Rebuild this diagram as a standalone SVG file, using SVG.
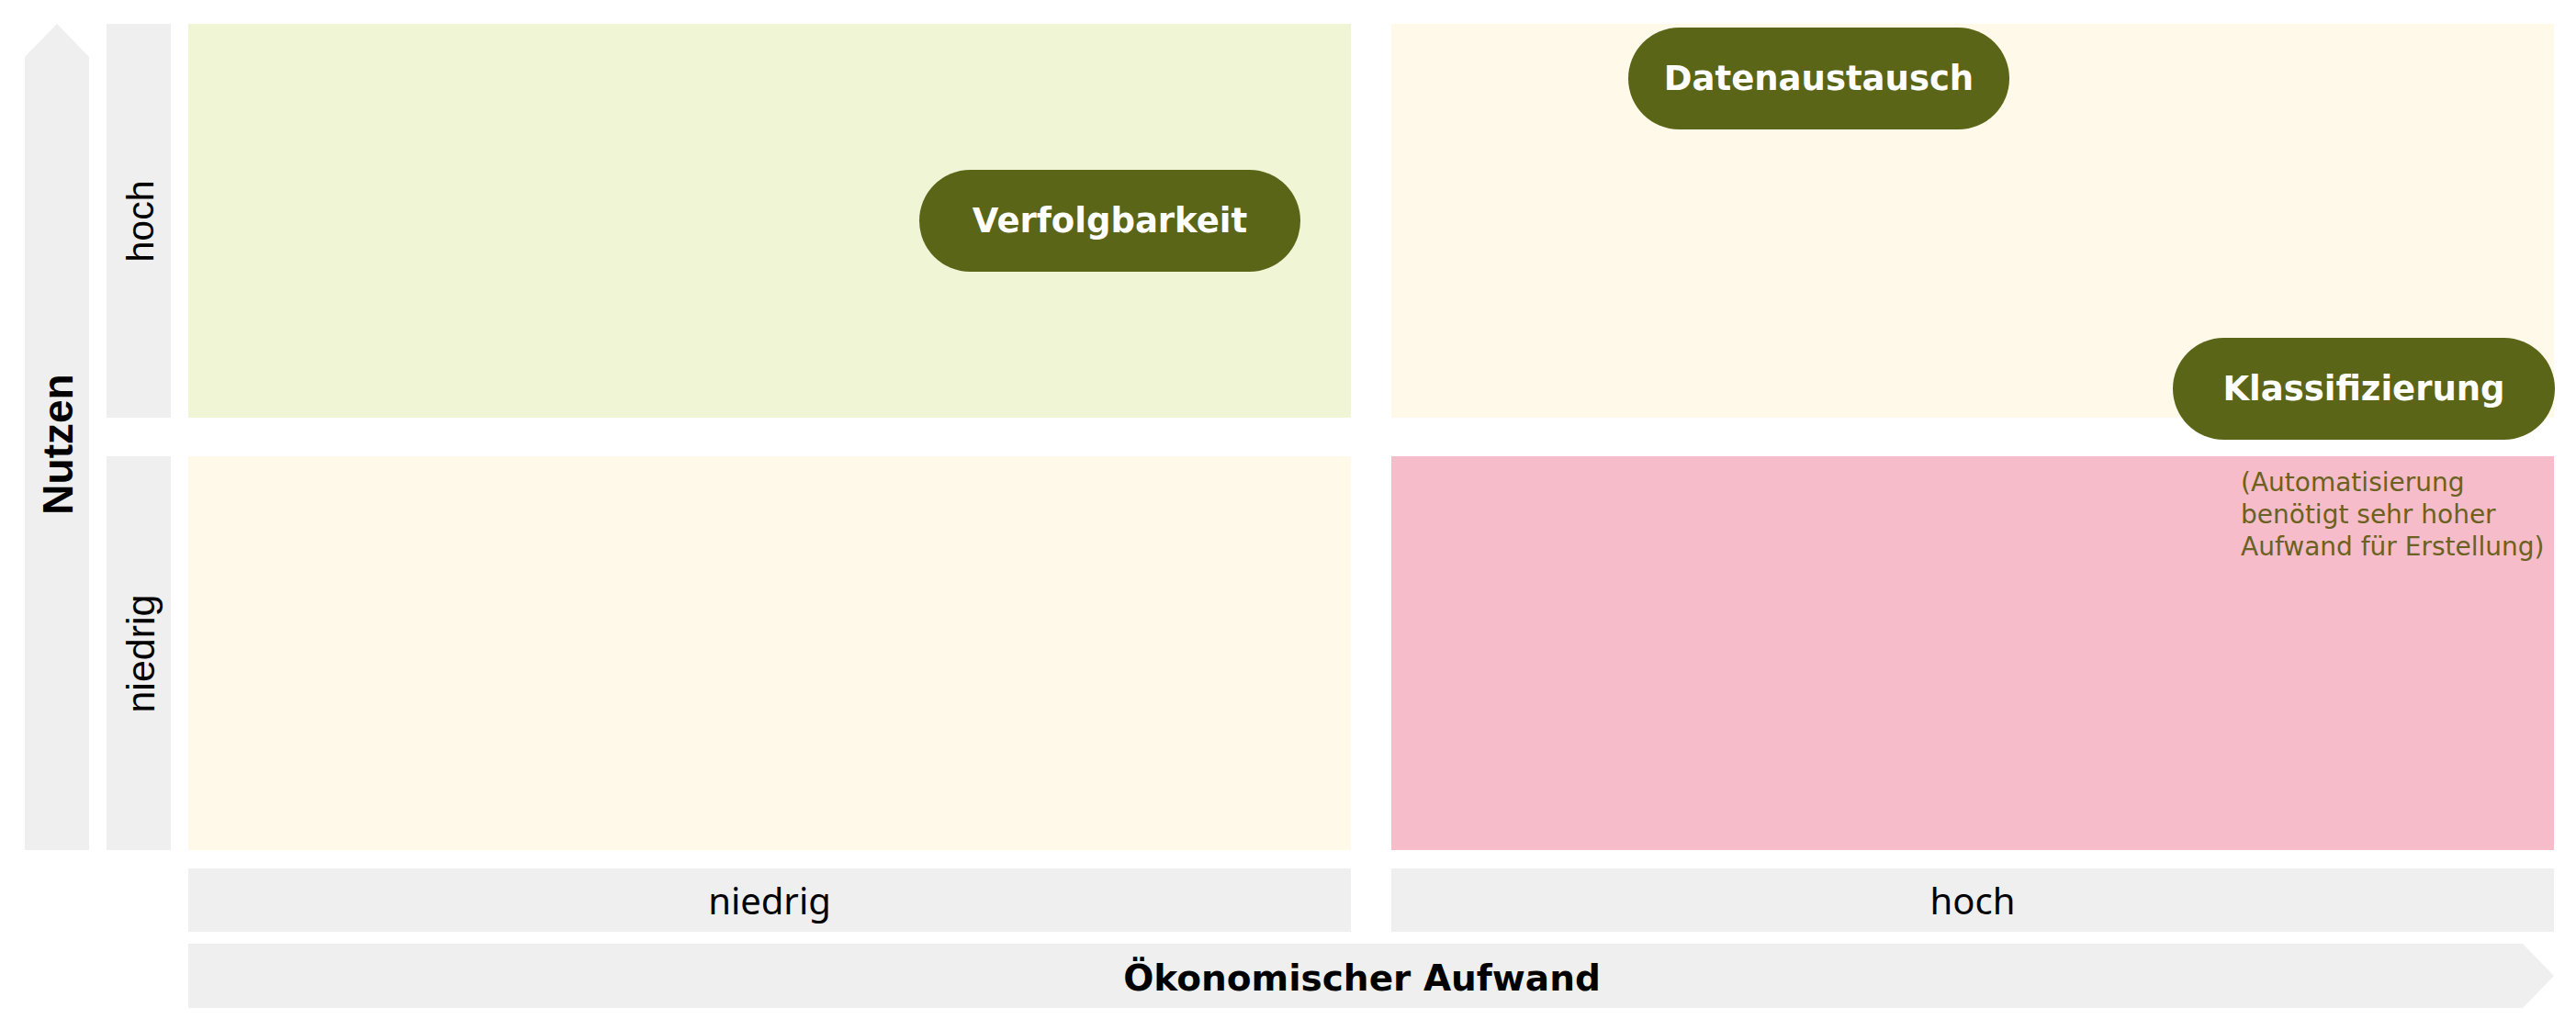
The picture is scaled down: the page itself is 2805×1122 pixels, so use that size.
<svg xmlns="http://www.w3.org/2000/svg" width="2805" height="1122" viewBox="0 0 2805 1122">
  <style>
    .bar { fill: #efefef; }
    .pill rect { fill: #5b6518; }
    .pill text { font-family: "DejaVu Sans", Verdana, sans-serif; font-weight: bold; font-size: 37px; fill: #ffffff; text-anchor: middle; }
    .vlabel { font-family: "Liberation Sans", Arial, sans-serif; font-size: 41px; fill: #000000; text-anchor: middle; }
    .hlabel { font-family: "Noto Sans", "Open Sans", sans-serif; font-size: 40px; fill: #000000; text-anchor: middle; }
    .axis-v { font-family: "Liberation Sans", Arial, sans-serif; font-weight: bold; font-size: 46px; fill: #000000; text-anchor: middle; }
    .axis-h { font-family: "DejaVu Sans", Verdana, sans-serif; font-weight: bold; font-size: 39px; fill: #000000; text-anchor: middle; }
    .note { font-family: "DejaVu Sans", Verdana, sans-serif; font-size: 28px; fill: #6b6120; }
  </style>
  <rect width="2805" height="1122" fill="#ffffff"/>

  <!-- quadrants -->
  <g id="quadrants">
    <rect id="q-high-low" x="205" y="26" width="1266" height="429" fill="#f0f5d6"/>
    <rect id="q-high-high" x="1515" y="26" width="1266" height="429" fill="#fef9e9"/>
    <rect id="q-low-low" x="205" y="497" width="1266" height="429" fill="#fef9e9"/>
    <rect id="q-low-high" x="1515" y="497" width="1266" height="429" fill="#f6bcca"/>
  </g>

  <!-- vertical axis: Nutzen -->
  <g id="axis-nutzen">
    <path class="bar" d="M27,62 L62,26 L97,62 L97,926 L27,926 Z"/>
    <text class="axis-v" transform="translate(79,484) rotate(-90)">Nutzen</text>
  </g>
  <g id="row-hoch">
    <rect class="bar" x="116" y="26" width="70" height="429"/>
    <text class="vlabel" transform="translate(167,241) rotate(-90)">hoch</text>
  </g>
  <g id="row-niedrig">
    <rect class="bar" x="116" y="497" width="70" height="429"/>
    <text class="vlabel" style="font-size:43px" transform="translate(168,712) rotate(-90)">niedrig</text>
  </g>

  <!-- horizontal axis: Ökonomischer Aufwand -->
  <g id="col-niedrig">
    <rect class="bar" x="205" y="946" width="1266" height="69"/>
    <text class="hlabel" x="838" y="996">niedrig</text>
  </g>
  <g id="col-hoch">
    <rect class="bar" x="1515" y="946" width="1266" height="69"/>
    <text class="hlabel" x="2148" y="996">hoch</text>
  </g>
  <g id="axis-aufwand">
    <path class="bar" d="M205,1028 L2747,1028 L2781,1063 L2747,1098 L205,1098 Z"/>
    <text class="axis-h" x="1483" y="1079">Ökonomischer Aufwand</text>
  </g>

  <!-- items -->
  <g id="verfolgbarkeit" class="pill">
    <rect x="1001" y="185" width="415" height="111" rx="55.5"/>
    <text x="1208.5" y="253">Verfolgbarkeit</text>
  </g>
  <g id="datenaustausch" class="pill">
    <rect x="1773" y="30" width="415" height="111" rx="55.5"/>
    <text x="1980.5" y="98">Datenaustausch</text>
  </g>
  <g id="klassifizierung" class="pill">
    <rect x="2366" y="368" width="416" height="111" rx="55.5"/>
    <text x="2574" y="436">Klassifizierung</text>
  </g>
  <g id="klassifizierung-note">
    <text class="note" x="2440" y="535">(Automatisierung</text>
    <text class="note" x="2440" y="570">benötigt sehr hoher</text>
    <text class="note" x="2440" y="605">Aufwand für Erstellung)</text>
  </g>

  <g id="connectors"></g>
</svg>
